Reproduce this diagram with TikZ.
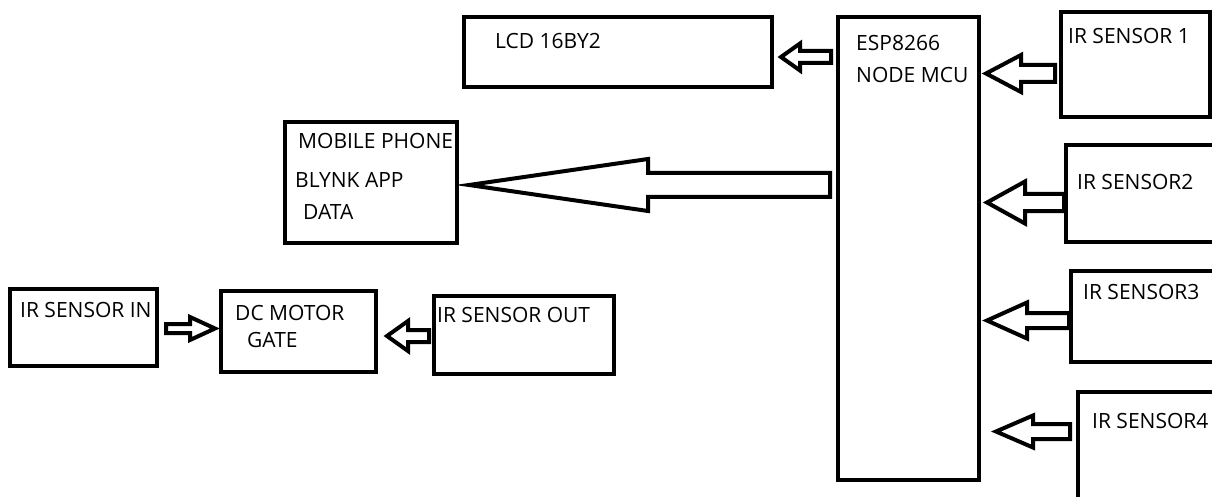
\documentclass[tikz,border=0pt]{standalone}
\usepackage{fontspec}
\setmainfont{Open Sans}
\usetikzlibrary{positioning}

% block arrow: tail x, tip x, y, shaft half, head back x, head half
\newcommand\fatarrow[6]{%
  \draw[fat] (#1,#3-#4) -- (#5,#3-#4) -- (#5,#3-#6) -- (#2,#3)
    -- (#5,#3+#6) -- (#5,#3+#4) -- (#1,#3+#4) -- cycle;}

\begin{document}
\begin{tikzpicture}[
  x=1pt,y=-1pt,
  box/.style={draw,line width=4pt,inner sep=0pt},
  lbl/.style={anchor=west,inner sep=0pt},
  fat/.style={draw,line width=4pt,line join=miter},
  font=\fontsize{21}{24}\selectfont]
  \useasboundingbox (0,0) rectangle (1212,497);
  % blocks
  \node[box,minimum width=141pt,minimum height=463pt] (esp) at (908.5,248.5) {};
  \node[box,minimum width=308pt,minimum height=70pt] (lcd) at (618,52) {};
  \node[box,minimum width=172pt,minimum height=121pt] (mob) at (371,182.5) {};
  \node[box,minimum width=149pt,minimum height=105pt] (ir1) at (1135.5,64.5) {};
  \node[box,minimum width=170pt,minimum height=97pt] (ir2) at (1151,193.5) {};
  \node[box,minimum width=170pt,minimum height=91pt] (ir3) at (1156,316.5) {};
  \node[box,minimum width=170pt,minimum height=128pt] (ir4) at (1163,456) {};
  \node[box,minimum width=147pt,minimum height=77pt] (irin) at (83.5,327.5) {};
  \node[box,minimum width=155pt,minimum height=81pt] (dc) at (298.5,331.5) {};
  \node[box,minimum width=180pt,minimum height=78pt] (irout) at (524,335) {};
  % texts
  \node[lbl] (esp-t1) at (856,43) {ESP8266};
  \node[lbl] (esp-t2) at (856,75) {NODE MCU};
  \node[lbl] (lcd-t) at (495,41) {LCD 16BY2};
  \node[lbl] (mob-t1) at (298,141) {MOBILE PHONE};
  \node[lbl] (mob-t2) at (295,180) {BLYNK APP};
  \node[lbl] (mob-t3) at (303,212) {DATA};
  \node[lbl] (ir1-t) at (1068,36) {IR SENSOR 1};
  \node[lbl] (ir2-t) at (1077,182) {IR SENSOR2};
  \node[lbl] (ir3-t) at (1083,292) {IR SENSOR3};
  \node[lbl] (ir4-t) at (1092,421) {IR SENSOR4};
  \node[lbl] (irin-t) at (20,310) {IR SENSOR IN};
  \node[lbl] (dc-t1) at (235,313) {DC MOTOR};
  \node[lbl] (dc-t2) at (247,340) {GATE};
  \node[lbl] (irout-t) at (437,315) {IR SENSOR OUT};
  % arrows
  \fatarrow{831}{781}{57}{6}{800}{13.5}
  \fatarrow{830}{469}{185}{12}{648}{26}
  \fatarrow{1055}{986}{73.5}{8.5}{1021}{18.5}
  \fatarrow{1064}{987}{202.5}{8.5}{1025}{21}
  \fatarrow{1069}{987}{320.5}{7.5}{1027}{18}
  \fatarrow{1070}{996}{431.5}{7.5}{1033}{16}
  \fatarrow{166}{215}{328.5}{4.5}{190}{11.5}
  \fatarrow{429}{387}{336}{6}{408}{15}
\end{tikzpicture}
\end{document}
